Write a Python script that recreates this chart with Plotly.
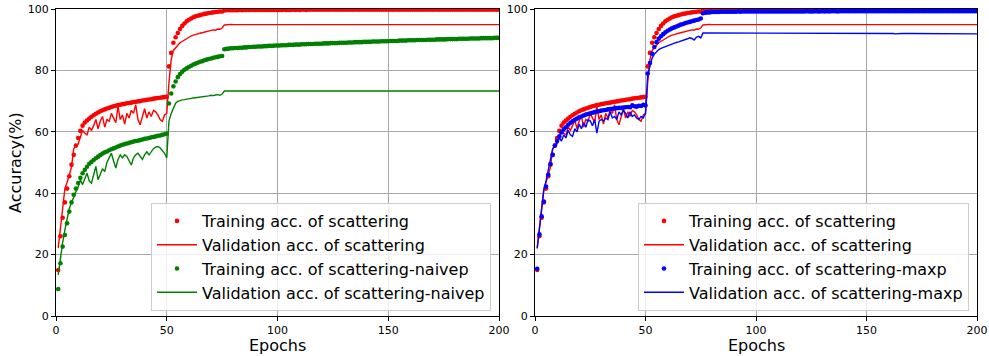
import plotly.graph_objects as go

epochs = list(range(1, 201))

# ---- scattering (red) ----
scat_train = [
    15.0, 26.0, 32.0, 37.0, 41.5, 45.5, 49.3, 52.5, 55.5, 58.0,
    60.3, 62.0, 63.0, 63.7, 64.3, 64.9, 65.4, 65.9, 66.3, 66.7,
    67.0, 67.3, 67.6, 67.8, 68.1, 68.3, 68.5, 68.7, 68.8, 69.0,
    69.1, 69.3, 69.4, 69.5, 69.7, 69.8, 69.9, 70.0, 70.2, 70.3,
    70.4, 70.5, 70.6, 70.8, 70.9, 71.0, 71.1, 71.2, 71.3, 71.4,
    81.3, 85.7, 89.0, 90.8, 92.2, 93.5, 94.5, 95.3, 96.0, 96.5,
    96.9, 97.3, 97.6, 97.8, 98.0, 98.2, 98.4, 98.5, 98.7, 98.8,
    98.9, 99.0, 99.1, 99.2, 99.2,
    99.5, 99.6, 99.6, 99.6, 99.6, 99.6, 99.6, 99.7, 99.6, 99.7,
    99.7, 99.7, 99.7, 99.7, 99.7, 99.7, 99.7, 99.7, 99.7, 99.7,
    99.7, 99.7, 99.7, 99.7, 99.7, 99.7, 99.7, 99.8, 99.7, 99.7,
    99.7, 99.8, 99.7, 99.8, 99.7, 99.8, 99.8, 99.7, 99.8, 99.8,
    99.8, 99.8, 99.8, 99.8, 99.8, 99.8, 99.8, 99.8, 99.8, 99.8,
    99.8, 99.8, 99.8, 99.8, 99.8, 99.8, 99.8, 99.8, 99.8, 99.8,
    99.8, 99.8, 99.8, 99.8, 99.8, 99.8, 99.8, 99.8, 99.8, 99.8,
    99.8, 99.8, 99.8, 99.8, 99.8, 99.8, 99.8, 99.8, 99.8, 99.8,
    99.8, 99.8, 99.8, 99.8, 99.8, 99.8, 99.8, 99.8, 99.8, 99.8,
    99.8, 99.8, 99.8, 99.8, 99.8, 99.8, 99.8, 99.8, 99.8, 99.8,
    99.8, 99.8, 99.8, 99.8, 99.8, 99.8, 99.8, 99.8, 99.8, 99.8,
    99.8, 99.8, 99.8, 99.8, 99.8, 99.8, 99.8, 99.8, 99.8, 99.8,
    99.8, 99.8, 99.8, 99.8, 99.8,
]
scat_val = [
    22.2, 28.0, 35.0, 41.5, 43.5, 46.0, 48.5, 54.5, 55.5, 56.0,
    58.5, 60.5, 59.5, 59.0, 61.5, 60.5, 62.0, 64.0, 61.0, 63.5,
    65.0, 61.5, 64.0, 63.4, 66.0, 64.5, 63.0, 68.3, 64.0, 65.5,
    62.5, 66.0, 64.5, 67.0, 66.0, 68.8, 64.0, 62.3, 65.0, 67.5,
    64.5, 66.5, 65.0, 67.0, 66.5, 65.5, 64.0, 63.4, 65.5, 66.0,
    76.0, 83.5, 86.5, 87.5, 88.2, 89.0, 89.5, 90.0, 90.5, 90.9,
    91.2, 91.5, 91.6, 91.9, 92.1, 92.3, 92.4, 92.7, 92.9, 93.0,
    93.2, 93.1, 93.5, 93.4, 93.8,
    94.8, 94.9, 94.9, 95.0, 94.9, 94.9, 94.9, 95.0, 94.9, 94.9,
    94.9, 94.9, 95.0, 94.9, 94.9, 94.8, 94.9, 94.9, 94.9, 95.0,
    94.9, 94.9, 94.9, 94.9, 94.9, 95.0, 94.9, 94.9, 94.9, 94.9,
    94.9, 94.9, 94.9, 94.9, 94.8, 94.9, 94.9, 94.9, 94.9, 94.9,
    95.0, 94.9, 94.9, 94.9, 94.9, 94.9, 94.9, 94.9, 94.9, 94.9,
    94.9, 94.9, 94.9, 94.9, 94.9, 94.9, 95.0, 94.9, 94.9, 94.9,
    94.9, 94.9, 94.9, 94.9, 94.9, 94.9, 94.9, 94.9, 94.8, 94.9,
    94.9, 94.9, 94.9, 94.9, 94.9, 94.9, 94.9, 94.9, 94.9, 94.9,
    94.9, 95.0, 94.9, 94.9, 94.9, 94.9, 94.9, 94.9, 94.9, 94.9,
    94.9, 94.9, 94.9, 94.9, 94.9, 94.9, 94.9, 94.9, 94.9, 94.9,
    94.9, 94.9, 94.9, 94.9, 95.0, 94.9, 94.9, 94.9, 94.9, 94.9,
    94.9, 94.9, 94.9, 94.9, 94.9, 94.9, 94.9, 94.9, 94.9, 94.9,
    94.9, 94.9, 94.9, 94.9, 94.9,
]

# ---- scattering-naivep (green) ----
naivep_train = [
    8.8, 17.2, 22.6, 26.4, 30.2, 34.0, 37.0, 39.5, 41.5, 43.3,
    45.0, 46.5, 47.6, 48.6, 49.6, 50.2, 50.8, 51.4, 51.9, 52.4,
    52.9, 53.3, 53.6, 54.0, 54.3, 54.6, 54.9, 55.2, 55.5, 55.8,
    56.0, 56.2, 56.4, 56.6, 56.8, 57.0, 57.1, 57.3, 57.5, 57.7,
    57.8, 58.0, 58.2, 58.3, 58.5, 58.7, 58.8, 59.0, 59.2, 59.4,
    69.2, 72.5, 74.8, 76.4, 77.8, 78.8, 79.6, 80.2, 80.7, 81.1,
    81.5, 81.9, 82.2, 82.5, 82.8, 83.0, 83.3, 83.5, 83.7, 83.9,
    84.1, 84.3, 84.4, 84.6, 84.7,
    86.9, 87.0, 87.1, 87.2, 87.2, 87.3, 87.3, 87.4, 87.4, 87.5,
    87.5, 87.6, 87.6, 87.7, 87.7, 87.8, 87.8, 87.8, 87.9, 87.9,
    88.0, 88.0, 88.0, 88.1, 88.1, 88.1, 88.2, 88.2, 88.2, 88.3,
    88.3, 88.3, 88.4, 88.4, 88.4, 88.5, 88.5, 88.5, 88.6, 88.6,
    88.6, 88.7, 88.7, 88.7, 88.7, 88.8, 88.8, 88.8, 88.9, 88.9,
    88.9, 88.9, 89.0, 89.0, 89.0, 89.0, 89.1, 89.1, 89.1, 89.2,
    89.2, 89.2, 89.2, 89.3, 89.3, 89.3, 89.3, 89.4, 89.4, 89.4,
    89.4, 89.5, 89.5, 89.5, 89.5, 89.6, 89.6, 89.6, 89.6, 89.7,
    89.7, 89.7, 89.7, 89.8, 89.8, 89.8, 89.8, 89.9, 89.9, 89.9,
    89.9, 89.9, 90.0, 90.0, 90.0, 90.0, 90.1, 90.1, 90.1, 90.1,
    90.1, 90.2, 90.2, 90.2, 90.2, 90.2, 90.3, 90.3, 90.3, 90.3,
    90.3, 90.4, 90.4, 90.4, 90.4, 90.4, 90.5, 90.5, 90.5, 90.5,
    90.5, 90.5, 90.6, 90.6, 90.6,
]
naivep_val = [
    13.4, 19.5, 24.0, 28.0, 32.0, 35.0, 37.0, 39.0, 40.5, 42.0,
    44.4, 42.8, 45.0, 46.5, 44.0, 43.3, 46.0, 48.7, 44.4, 46.5,
    48.0, 47.0, 50.0, 51.5, 53.0, 50.5, 48.2, 51.0, 52.5, 51.5,
    52.5, 52.0, 50.5, 49.2, 51.5, 52.5, 53.0, 52.0, 51.0, 52.5,
    53.5, 52.5, 53.5, 54.5, 55.0, 55.2, 54.8, 54.0, 53.0, 51.5,
    63.5, 66.0, 68.0, 69.3, 69.9, 70.2, 70.4, 70.5, 70.7, 70.8,
    70.9, 71.0, 71.1, 71.0, 71.3, 71.4, 71.3, 71.6, 71.7, 71.9,
    71.8, 72.0, 72.1, 71.9, 72.3,
    73.3, 73.3, 73.4, 73.3, 73.3, 73.3, 73.2, 73.3, 73.3, 73.3,
    73.3, 73.3, 73.3, 73.4, 73.3, 73.3, 73.3, 73.3, 73.3, 73.2,
    73.3, 73.3, 73.3, 73.3, 73.3, 73.3, 73.3, 73.4, 73.3, 73.3,
    73.3, 73.3, 73.3, 73.3, 73.3, 73.3, 73.3, 73.3, 73.3, 73.3,
    73.3, 73.2, 73.3, 73.3, 73.3, 73.3, 73.3, 73.3, 73.3, 73.3,
    73.3, 73.3, 73.3, 73.3, 73.3, 73.3, 73.3, 73.3, 73.3, 73.3,
    73.3, 73.3, 73.3, 73.3, 73.3, 73.3, 73.3, 73.3, 73.3, 73.3,
    73.3, 73.3, 73.3, 73.3, 73.2, 73.3, 73.3, 73.3, 73.3, 73.3,
    73.3, 73.3, 73.3, 73.3, 73.3, 73.3, 73.3, 73.3, 73.3, 73.3,
    73.3, 73.3, 73.3, 73.3, 73.3, 73.3, 73.3, 73.3, 73.3, 73.3,
    73.3, 73.3, 73.3, 73.3, 73.3, 73.3, 73.3, 73.3, 73.3, 73.3,
    73.3, 73.3, 73.3, 73.3, 73.3, 73.3, 73.3, 73.3, 73.3, 73.3,
    73.3, 73.3, 73.3, 73.3, 73.3,
]

# ---- scattering-maxp (blue) ----
maxp_train = [
    15.4, 26.6, 32.5, 37.3, 42.2, 46.0, 49.5, 52.5, 55.5, 57.0,
    58.5, 59.8, 60.8, 61.5, 62.3, 62.9, 63.4, 63.9, 64.3, 64.7,
    65.0, 65.3, 65.6, 65.8, 66.0, 66.2, 66.4, 66.6, 66.7, 66.9,
    67.0, 67.1, 67.3, 67.4, 67.5, 67.6, 67.7, 67.8, 67.8, 67.9,
    68.0, 68.1, 68.0, 68.6, 68.3, 68.2, 68.5, 68.4, 68.8, 68.6,
    79.0, 82.4, 85.4, 87.6, 89.2, 90.3, 91.1, 91.8, 92.4, 92.9,
    93.3, 93.7, 94.0, 94.3, 94.6, 94.9, 95.1, 95.4, 95.6, 95.8,
    96.0, 96.2, 96.4, 96.6, 96.9,
    98.6, 98.8, 98.9, 98.9, 99.0, 99.0, 99.0, 99.0, 99.1, 99.1,
    99.1, 99.1, 99.1, 99.1, 99.1, 99.1, 99.2, 99.1, 99.2, 99.2,
    99.2, 99.2, 99.2, 99.2, 99.2, 99.2, 99.2, 99.2, 99.2, 99.2,
    99.2, 99.2, 99.2, 99.2, 99.2, 99.2, 99.2, 99.2, 99.2, 99.2,
    99.2, 99.2, 99.2, 99.2, 99.2, 99.2, 99.2, 99.3, 99.2, 99.2,
    99.2, 99.3, 99.2, 99.2, 99.3, 99.2, 99.3, 99.2, 99.3, 99.3,
    99.3, 99.2, 99.3, 99.3, 99.3, 99.3, 99.3, 99.3, 99.3, 99.3,
    99.3, 99.3, 99.3, 99.3, 99.3, 99.3, 99.3, 99.3, 99.3, 99.3,
    99.3, 99.3, 99.3, 99.3, 99.3, 99.3, 99.3, 99.3, 99.3, 99.3,
    99.3, 99.3, 99.3, 99.3, 99.3, 99.3, 99.3, 99.3, 99.3, 99.3,
    99.3, 99.3, 99.3, 99.3, 99.3, 99.3, 99.3, 99.3, 99.3, 99.3,
    99.3, 99.3, 99.3, 99.3, 99.3, 99.3, 99.3, 99.3, 99.3, 99.3,
    99.3, 99.3, 99.3, 99.3, 99.3,
]
maxp_val = [
    22.0, 28.5, 35.5, 41.0, 44.0, 47.5, 51.0, 54.5, 55.5, 56.5,
    58.0, 57.0, 59.0, 58.0, 60.5, 59.0, 58.5, 61.0, 60.0, 62.5,
    61.0, 63.0, 61.5, 64.0, 63.5, 62.0, 64.0, 59.6, 63.5, 64.0,
    63.5, 64.5, 64.0, 66.5, 64.5, 65.0, 64.0, 66.5, 65.5, 67.0,
    66.0, 64.5, 66.5, 65.0, 65.5, 64.5, 64.0, 65.0, 64.5, 66.0,
    78.6, 81.5, 84.0, 85.3, 86.2, 86.8, 87.2, 87.5, 87.8, 88.0,
    88.3, 88.6, 88.8, 89.1, 89.3, 89.5, 89.8, 90.0, 90.3, 90.6,
    90.4, 89.9, 90.8, 91.1, 90.6,
    92.2, 92.2, 92.1, 92.1, 92.1, 92.1, 92.1, 92.1, 92.1, 92.1,
    92.1, 92.1, 92.1, 92.1, 92.0, 92.1, 92.1, 92.1, 92.1, 92.1,
    92.1, 92.1, 92.1, 92.1, 92.1, 92.0, 92.1, 92.1, 92.1, 92.1,
    92.1, 92.1, 92.0, 92.1, 92.1, 92.1, 92.1, 92.0, 92.1, 92.1,
    92.0, 92.1, 92.0, 92.1, 92.0, 92.0, 92.1, 92.0, 92.0, 92.0,
    92.0, 92.0, 92.0, 92.0, 92.0, 92.0, 92.0, 92.0, 92.0, 92.0,
    92.0, 92.0, 92.0, 92.0, 92.0, 92.0, 92.0, 92.0, 92.0, 92.0,
    92.0, 92.0, 92.0, 92.0, 92.0, 92.0, 92.0, 92.0, 92.0, 92.0,
    92.0, 92.0, 92.0, 92.0, 92.0, 92.0, 92.0, 91.9, 92.0, 92.0,
    92.0, 92.0, 91.9, 92.0, 92.0, 92.0, 91.9, 92.0, 92.0, 91.9,
    92.0, 91.9, 91.9, 92.0, 91.9, 91.9, 91.9, 91.9, 91.9, 91.9,
    91.9, 91.9, 91.9, 91.9, 91.9, 91.9, 91.9, 91.9, 91.9, 91.9,
    91.9, 91.9, 91.9, 91.9, 91.9,
]

x_ticks = [0, 50, 100, 150, 200]
y_ticks = [0, 20, 40, 60, 80, 100]

FONT = "DejaVu Sans"
MS = 4.6
LW = 1.4
W, H = 989, 356

fig = go.Figure()


def dots(y, color, name, xa, ya, leg):
    fig.add_trace(go.Scatter(x=epochs, y=y, mode="markers", name=name,
                             marker=dict(color=color, size=MS, line=dict(width=0)),
                             xaxis=xa, yaxis=ya, legend=leg))


def line(y, color, name, xa, ya, leg):
    fig.add_trace(go.Scatter(x=epochs, y=y, mode="lines", name=name,
                             line=dict(color=color, width=LW),
                             xaxis=xa, yaxis=ya, legend=leg))


dots(scat_train, "#ff0000", "Training acc. of scattering", "x", "y", "legend")
line(scat_val, "#ff0000", "Validation acc. of scattering", "x", "y", "legend")
dots(naivep_train, "#008000", "Training acc. of scattering-naivep", "x", "y", "legend")
line(naivep_val, "#008000", "Validation acc. of scattering-naivep", "x", "y", "legend")

dots(scat_train, "#ff0000", "Training acc. of scattering", "x2", "y2", "legend2")
line(scat_val, "#ff0000", "Validation acc. of scattering", "x2", "y2", "legend2")
dots(maxp_train, "#0000ff", "Training acc. of scattering-maxp", "x2", "y2", "legend2")
line(maxp_val, "#0000ff", "Validation acc. of scattering-maxp", "x2", "y2", "legend2")

axis_common = dict(
    showline=True, linecolor="black", linewidth=1, mirror=True,
    ticks="outside", ticklen=4, tickwidth=1, tickcolor="black",
    tickfont=dict(size=11, color="black", family=FONT),
    showgrid=True, gridcolor="#a8a8a8", gridwidth=1, zeroline=False,
    automargin=False,
)
ydom = [1 - 316 / H, 1 - 9 / H]

legend_common = dict(
    y=1 - 311 / H, xanchor="right", yanchor="bottom",
    bgcolor="rgba(255,255,255,0.8)", bordercolor="#cccccc", borderwidth=1,
    font=dict(size=16, family=FONT, color="black"), tracegroupgap=0,
    itemwidth=40,
)

fig.update_layout(
    width=W, height=H,
    margin=dict(l=0, r=0, t=0, b=0, pad=0, autoexpand=False),
    paper_bgcolor="white", plot_bgcolor="white",
    font=dict(family=FONT, color="black"),
    showlegend=True,
    xaxis=dict(axis_common, domain=[56 / W, 499 / W], range=[0, 200], tickvals=x_ticks, anchor="y"),
    yaxis=dict(axis_common, domain=ydom, range=[0, 100], tickvals=y_ticks, anchor="x"),
    xaxis2=dict(axis_common, domain=[535 / W, 977 / W], range=[0, 200], tickvals=x_ticks, anchor="y2"),
    yaxis2=dict(axis_common, domain=ydom, range=[0, 100], tickvals=y_ticks, anchor="x2"),
    legend=dict(legend_common, x=491 / W),
    legend2=dict(legend_common, x=969 / W),
    annotations=[
        dict(text="Epochs", x=277.5 / W, y=1 - 345 / H, xref="paper", yref="paper",
             xanchor="center", yanchor="middle", showarrow=False, font=dict(size=16, family=FONT)),
        dict(text="Epochs", x=756 / W, y=1 - 345 / H, xref="paper", yref="paper",
             xanchor="center", yanchor="middle", showarrow=False, font=dict(size=16, family=FONT)),
        dict(text="Accuracy(%)", x=16 / W, y=1 - 163 / H, xref="paper", yref="paper",
             xanchor="center", yanchor="middle", textangle=-90, showarrow=False,
             font=dict(size=16, family=FONT)),
    ],
)

fig.write_html(
    "out.html",
    config={"displayModeBar": False},
    post_script="document.body.style.margin='0';document.body.style.padding='0';"
                "document.body.style.overflow='hidden';",
)
